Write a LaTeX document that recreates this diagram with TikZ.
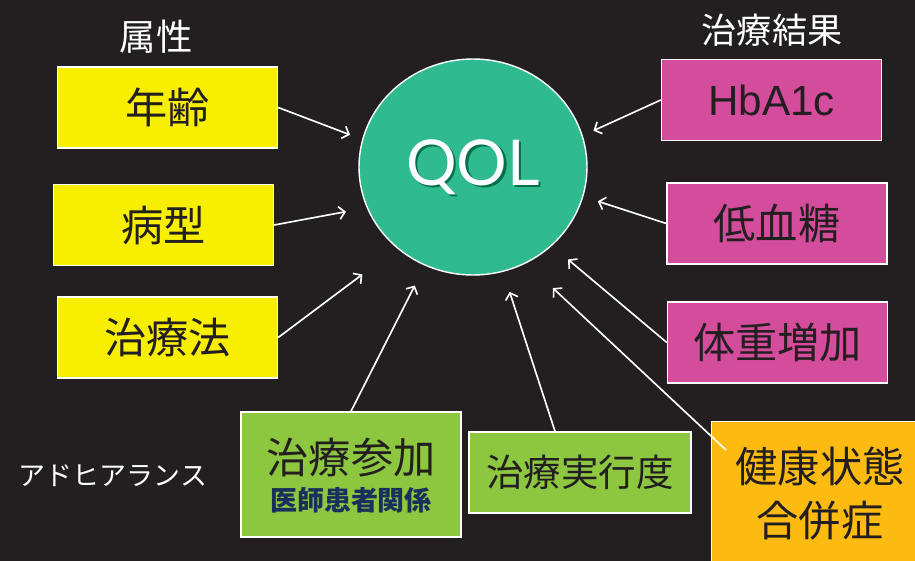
\documentclass[tikz,border=0pt]{standalone}
\usepackage{fontspec}
\setmainfont{Noto Sans CJK JP}
\newfontfamily\latinfont{Liberation Sans}
\newfontfamily\qolfont{Lato}
\usepackage{tikz}
\usetikzlibrary{shapes.geometric,arrows.meta}
\definecolor{bg}{HTML}{231F20}
\definecolor{attrcol}{HTML}{F7EE00}
\definecolor{outcol}{HTML}{D44C9C}
\definecolor{adhcol}{HTML}{8DC63F}
\definecolor{healthcol}{HTML}{FDBB12}
\definecolor{qolcol}{HTML}{2FBB8F}
\definecolor{qolshade}{HTML}{00704A}
\definecolor{navy}{HTML}{1B2F5C}
\newcommand{\boxfont}{\fontsize{36}{42}\selectfont}

\begin{document}
\begin{tikzpicture}[x=0.03cm,y=-0.03cm,
  box/.style={draw=white, line width=1.2pt, text=bg, inner sep=0pt, align=center, font=\boxfont},
  attr/.style={box, fill=attrcol, minimum width=6.6cm, minimum height=2.43cm},
  outc/.style={box, fill=outcol, minimum width=6.6cm, minimum height=2.43cm},
  adh/.style={box, fill=adhcol},
  arr/.style={draw=white, line width=1.4pt, -{Straight Barb[length=5pt,width=11pt,line width=1.4pt]}}]
\useasboundingbox[fill=bg] (0,0) rectangle (915,561);
% QOL
\node (qol) [ellipse, draw=white, line width=1.2pt, fill=qolcol, minimum width=6.84cm, minimum height=6.48cm] at (473,167) {};
\node (qolshadow) at ([xshift=2pt,yshift=-2pt]qol.center) {\qolfont\fontsize{54}{60}\selectfont\color{qolshade}QOL};
\node (qoltext) at (qol.center) {\qolfont\fontsize{54}{60}\selectfont\color{white}QOL};
% titles
\node (attrtitle) [text=white, font=\fontsize{31}{36}\selectfont] at (156,37) {属性};
\node (outtitle) [text=white, font=\fontsize{30}{36}\selectfont] at (772,30) {治療結果};
\node (adhtitle) [text=white, font=\fontsize{23}{28}\selectfont] at (113,476) {アドヒアランス};
% attributes
\node (age) [attr] at (167.5,107.5) {年齢};
\node (type) [attr] at (163.5,225) {病型};
\node (therapy) [attr] at (167.5,337.5) {治療法};
% outcomes
\node (hba) [outc] at (771.5,100) {\latinfont HbA1c};
\node (hypo) [outc] at (777,223.5) {低血糖};
\node (weight) [outc] at (777.5,342.5) {体重増加};
\node (health) [box, fill=healthcol, minimum width=6.5cm, minimum height=4.32cm, anchor=north west] at (711,421) {健康状態\\[4pt]合併症};
% adherence
\node (join) [adh, minimum width=6.6cm, minimum height=3.75cm] at (351,474.5) {};
\node (jointext) [text=bg, font=\fontsize{36}{40}\selectfont] at (351,458) {治療参加};
\node (jointsub) [text=navy, font=\bfseries\fontsize{23}{26}\selectfont] at (351,500) {医師患者関係};
\node (comp) [adh, minimum width=6.66cm, minimum height=2.43cm, font=\fontsize{32}{36}\selectfont] at (580,472.5) {治療実行度};
% arrows
\draw[arr, shorten >=11pt] (age.east) -- (qol.166);
\draw[arr, shorten >=18pt] (type.east) -- (qol.201);
\draw[arr, shorten >=37pt] (therapy.east) -- (qol.227);
\draw[arr, shorten >=19pt] (join.north) -- (qol.244);
\draw[arr, shorten >=18pt] ([xshift=-0.75cm]comp.north) -- (qol.286);
\draw[arr, shorten >=31pt] ([xshift=0.45cm,yshift=-0.87cm]health.north west) -- (qol.299);
\draw[arr, shorten >=18pt] (weight.west) -- (qol.315);
\draw[arr, shorten >=13pt] (hypo.west) -- (qol.345);
\draw[arr, shorten >=10pt] (hba.west) -- (qol.16);
\end{tikzpicture}
\end{document}
